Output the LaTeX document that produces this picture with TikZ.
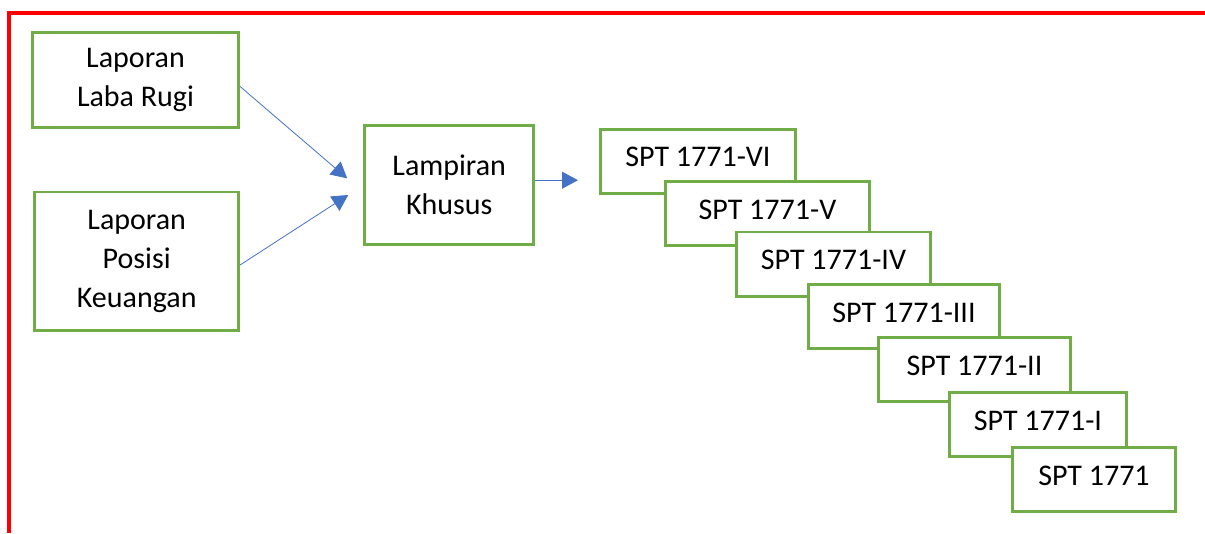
\documentclass[tikz,border=0pt]{standalone}
\usepackage{fontspec}
\setmainfont{Carlito}
\usetikzlibrary{arrows.meta}
\definecolor{boxgreen}{HTML}{70AD47}
\definecolor{linkblue}{HTML}{4472C4}
\tikzset{
  box/.style={draw=boxgreen, line width=2.7pt, fill=white, align=center,
    inner sep=0pt, font=\fontsize{30}{39}\selectfont},
  spt/.style={box, text height=19pt, text depth=8pt},
  link/.style={linkblue, line width=0.8pt, -{Triangle[length=16pt,width=17pt]}}
}
\begin{document}
\begin{tikzpicture}[x=1pt, y=-1pt]
\useasboundingbox (0,0) rectangle (1205,533);
\draw[red, line width=3.6pt] (9,533) -- (9,13) -- (1205,13);
% left column
\node[box, minimum width=206pt, minimum height=95pt] (labarugi) at (135.5,80.3) {Laporan\\Laba Rugi};
\node[box, minimum width=204pt, minimum height=138.6pt] (posisi) at (136.7,261.4) {Laporan\\Posisi\\Keuangan};
\node[box, minimum width=169pt, minimum height=119pt] (lampiran) at (449.2,185.2) {Lampiran\\Khusus};
% stacked SPT forms
\foreach \n/\x/\y/\w/\t in {vi/698/161.3/195.3/SPT 1771-VI, v/767.5/213.5/204.3/SPT 1771-V,
    iv/833.5/264/194.3/SPT 1771-IV, iii/904/316.5/191.3/SPT 1771-III,
    ii/974.5/369.5/192.3/SPT 1771-II, i/1038/424.5/177.3/SPT 1771-I, induk/1094/479.5/163.3/SPT 1771}
  \node[spt, minimum width=\w pt, minimum height=64.3pt] (\n) at (\x,\y) {\t};
\draw[link, shorten >=21.3pt] ([yshift=-6pt]labarugi.east) -- ([yshift=-7pt]lampiran.west);
\draw[link, shorten >=18pt] ([yshift=-3.6pt]posisi.east) -- (lampiran.west);
\draw[link, shorten >=21pt] ([yshift=5pt]lampiran.east) -- ([yshift=5pt]lampiran.east -| vi.west);
\end{tikzpicture}
\end{document}
